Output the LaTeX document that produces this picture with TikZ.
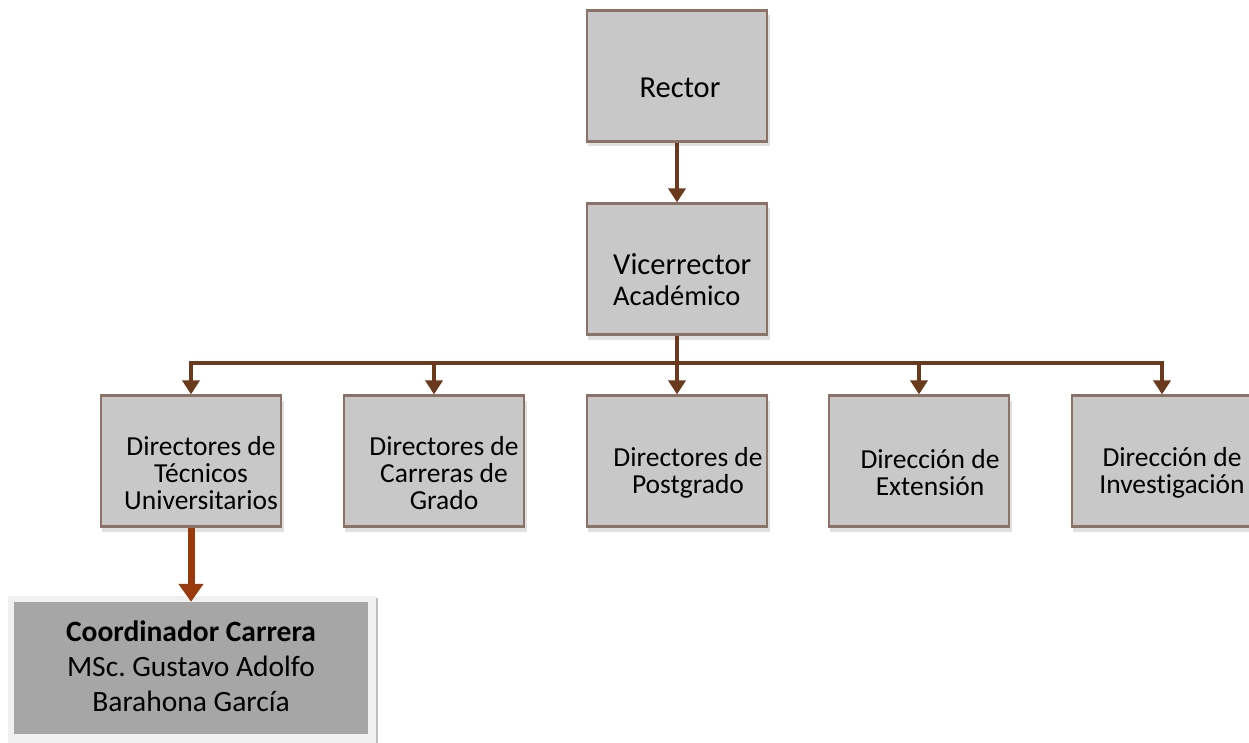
\documentclass[tikz,border=0pt]{standalone}
\usepackage{fontspec}
\setmainfont{Carlito}[RawFeature=-liga]
\frenchspacing
\usetikzlibrary{arrows.meta}
\definecolor{boxfill}{HTML}{C8C8C8}
\definecolor{boxline}{HTML}{8C7266}
\definecolor{conn}{HTML}{6B3A1C}
\definecolor{redconn}{HTML}{9A3A0C}
\definecolor{coordfill}{HTML}{A6A6A6}
\definecolor{coordframe}{HTML}{F0F0F0}
\tikzset{
  orgbox/.style={draw=boxline, line width=2.2pt, fill=boxfill, minimum width=180pt, minimum height=131pt, inner sep=0pt},
  boxshadow/.style={fill=black, opacity=0.12, minimum width=182pt, minimum height=131pt, inner sep=0pt},
  lbl/.style={font=\fontsize{27.5}{27}\selectfont, align=center, inner sep=0pt},
  conline/.style={draw=conn, line width=3.5pt},
  conarrow/.style={conline, -{Triangle[width=17pt,length=14pt]}},
  redarrow/.style={draw=redconn, line width=7pt, -{Triangle[width=24pt,length=18pt]}}
}
\begin{document}
\begin{tikzpicture}[x=1pt,y=-1pt]
\useasboundingbox (0,0) rectangle (1249,743);
% shadows
\foreach \n/\x/\y in {s1/677/76, s2/677/269, s3/191/461, s4/434/461, s5/677/461, s6/919/461, s7/1162/461}
  \node[boxshadow] (\n) at (\x+2,\y+5) {};
% boxes
\node[orgbox] (rector) at (677,76) {};
\node[orgbox] (vice) at (677,269) {};
\node[orgbox] (d1) at (191,461) {};
\node[orgbox] (d2) at (434,461) {};
\node[orgbox] (d3) at (677,461) {};
\node[orgbox] (d4) at (919,461) {};
\node[orgbox] (d5) at (1162,461) {};
% texts
\node[lbl, font=\fontsize{30.5}{30}\selectfont] (trector) at (680,88) {Rector};
\node[lbl, anchor=west, font=\fontsize{30.5}{30}\selectfont] (tvice1) at (613,264) {Vicerrector};
\node[lbl, anchor=west, font=\fontsize{28.5}{28}\selectfont] (tvice2) at (613,296) {Académico};
\node[lbl] (t1) at (201,473) {Directores de\\Técnicos\\Universitarios};
\node[lbl] (t2) at (444,473) {Directores de\\Carreras de\\Grado};
\node[lbl] (t3) at (688,473) {Directores de\\Postgrado};
\node[lbl] (t4) at (930,473) {Dirección\ de\\Extensión};
\node[lbl] (t5) at (1172,473) {Dirección\ de\\Investigación};
% coordinator box
\node[fill=black, opacity=0.25, minimum width=368pt, minimum height=147pt, inner sep=0pt] (cshadow) at (194,671.5) {};
\node[fill=coordframe, minimum width=368pt, minimum height=147pt, inner sep=0pt] (cframe) at (192,669.5) {};
\node[fill=coordfill, minimum width=354pt, minimum height=132pt, inner sep=0pt] (coord) at (191,668) {};
\node[align=center, inner sep=0pt, font=\fontsize{29.5}{35}\selectfont] (tcoord) at (191,666) {\textbf{Coordinador Carrera}\\MSc. Gustavo Adolfo\\Barahona García};
% connectors
\coordinate (bus) at (677,363);
\draw[conarrow] (rector.south) -- (vice.north);
\draw[conline] (vice.south) -- (bus);
\draw[conarrow] (bus) -- (d3.north);
\draw[conarrow] (bus) -| (d1.north);
\draw[conarrow] (bus) -| (d2.north);
\draw[conarrow] (bus) -| (d4.north);
\draw[conarrow] (bus) -| (d5.north);
\draw[redarrow] (d1.south) -- (coord.north);
\end{tikzpicture}
\end{document}
